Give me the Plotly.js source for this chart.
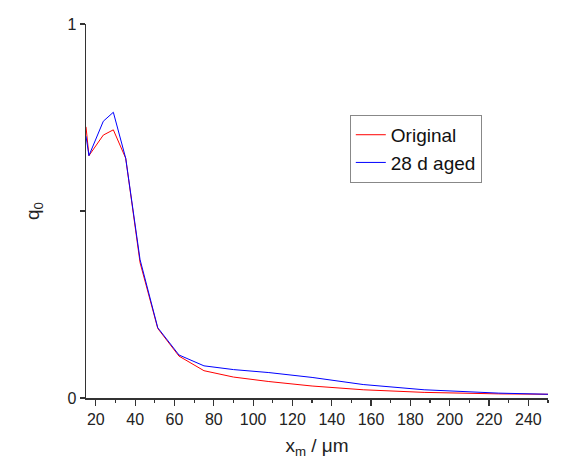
<!DOCTYPE html>
<html>
<head>
<meta charset="utf-8">
<script src="https://cdn.plot.ly/plotly-3.0.1.min.js"></script>
<style>html,body{margin:0;padding:0;background:#fff;}#chart{width:569px;height:461px;}</style>
</head>
<body>
<div id="chart"></div>
<script>
var xOriginal = [15, 16.5, 23.8, 28.9, 35.2, 42.5, 51.5, 62.3, 75, 90, 108, 130, 156, 187, 225, 250];
var qOriginal = [0.725, 0.648, 0.703, 0.717, 0.641, 0.362, 0.186, 0.112, 0.073, 0.056, 0.044, 0.032, 0.022, 0.015, 0.011, 0.010];
var xAged = [15, 16.5, 23.8, 28.9, 35.2, 42.5, 51.5, 62.3, 75, 90, 108, 130, 156, 187, 225, 250];
var qAged = [0.70, 0.648, 0.740, 0.764, 0.641, 0.370, 0.188, 0.115, 0.086, 0.076, 0.068, 0.055, 0.036, 0.022, 0.013, 0.010];
var seriesNames = ['Original', '28 d aged'];
var yTickVals = [0, 0.5, 1];
var yTickText = ['0', '', '1'];

var font = 'Liberation Sans, Arial, sans-serif';
var traces = [
  {x: xOriginal, y: qOriginal, name: seriesNames[0], mode: 'lines', line: {color: '#ff0000', width: 1}},
  {x: xAged, y: qAged, name: seriesNames[1], mode: 'lines', line: {color: '#0000ff', width: 1}}
];
var layout = {
  width: 569, height: 461,
  margin: {l: 86, r: 21, t: 24, b: 63, pad: 0},
  paper_bgcolor: '#fff', plot_bgcolor: '#fff',
  font: {family: font, color: '#222', size: 16},
  showlegend: true,
  legend: {x: 0.571, y: 0.757, xanchor: 'left', yanchor: 'top', bordercolor: '#888', borderwidth: 1,
           bgcolor: '#fff', font: {size: 19, family: font, color: '#111'}, tracegroupgap: 0},
  xaxis: {
    range: [15, 250], tick0: 0, dtick: 20, ticks: 'outside', ticklen: 6, tickwidth: 1.2, tickcolor: '#333',
    minor: {dtick: 10, tick0: 0, ticks: 'outside', ticklen: 3, tickwidth: 1.2, tickcolor: '#333'},
    showline: true, linecolor: '#333', linewidth: 1.5, showgrid: false, zeroline: false,
    tickfont: {size: 16, family: font, color: '#222'},
    title: {text: 'x<sub>m</sub> / μm', font: {size: 19, family: font, color: '#222'}, standoff: 12}
  },
  yaxis: {
    range: [0, 1], tickvals: yTickVals, ticktext: yTickText, ticks: 'outside', ticklen: 5, tickwidth: 1.2, tickcolor: '#333',
    showline: true, linecolor: '#333', linewidth: 1.5, showgrid: false, zeroline: false,
    tickfont: {size: 16, family: font, color: '#222'},
    title: {text: 'q<sub>0</sub>', font: {size: 19, family: font, color: '#222'}, standoff: 22}
  }
};
Plotly.newPlot('chart', traces, layout, {staticPlot: true, displayModeBar: false});
</script>
</body>
</html>
